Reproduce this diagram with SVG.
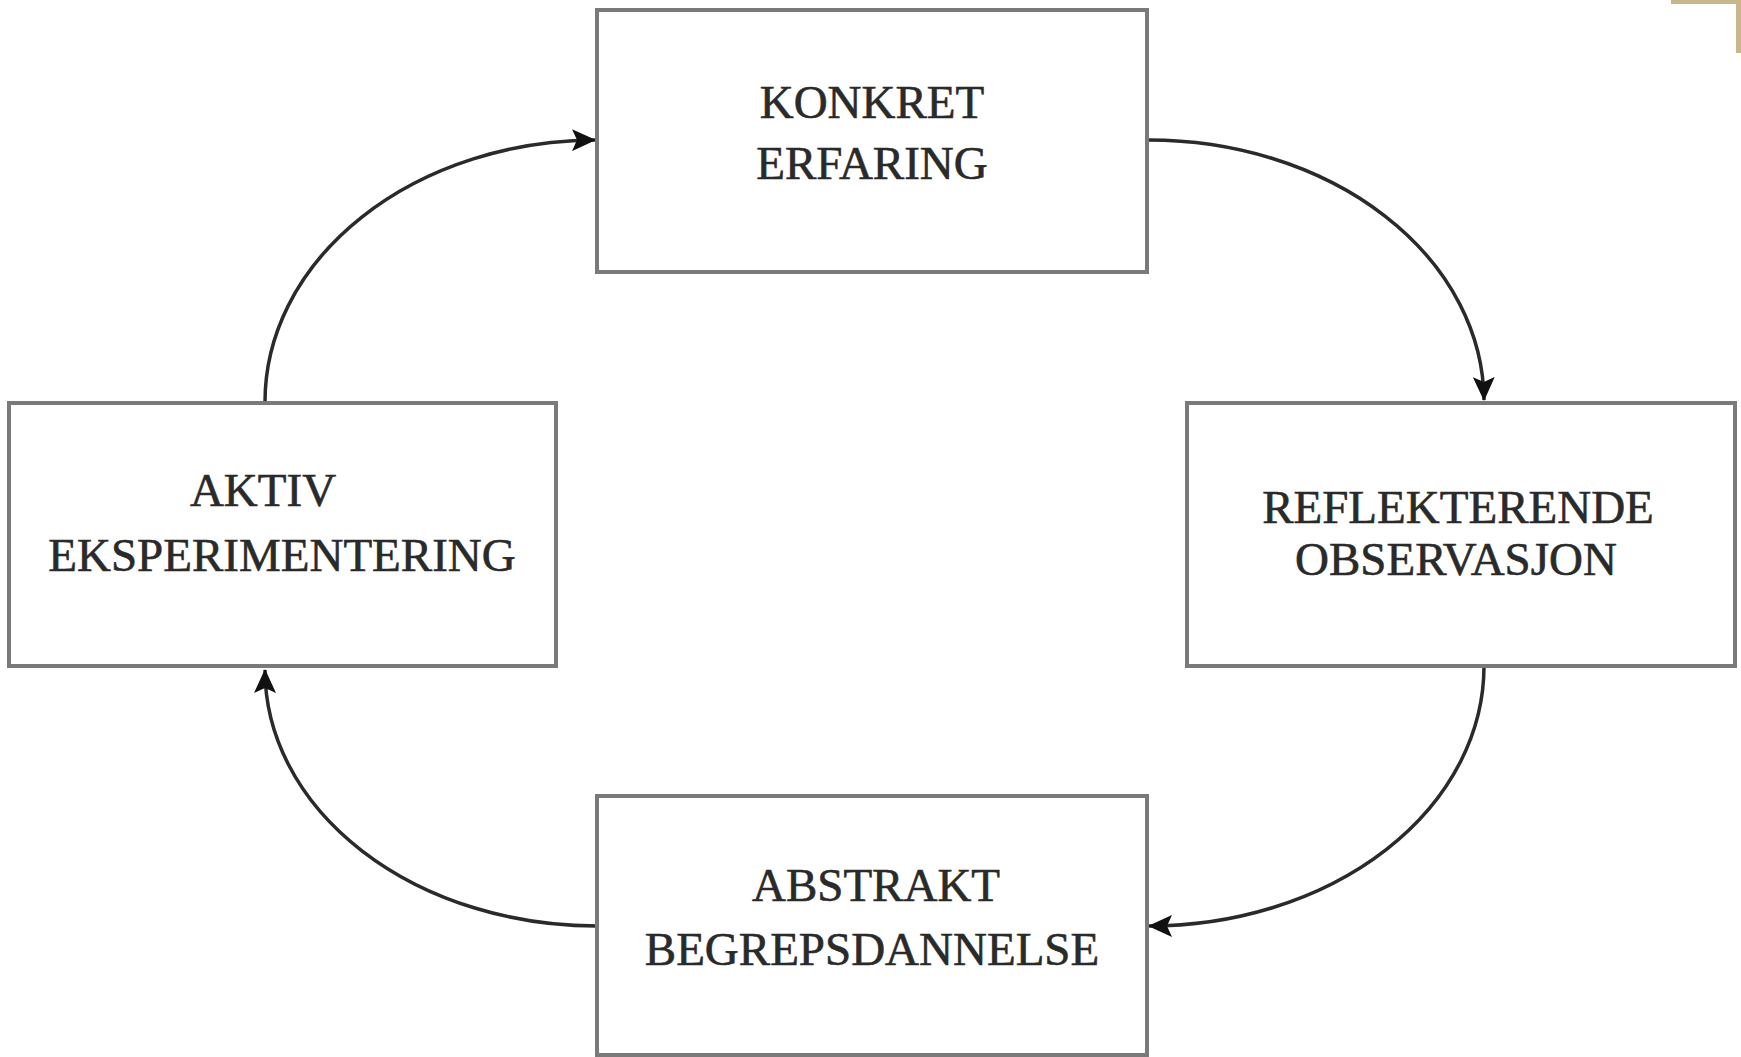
<svg xmlns="http://www.w3.org/2000/svg" width="1741" height="1057" viewBox="0 0 1741 1057">
<style>
.box{fill:#fff;stroke:#7a7a7a;stroke-width:4}
.lbl{font-family:"Liberation Serif","Times New Roman",serif;font-size:47px;fill:#2a2a2a;stroke:#2a2a2a;stroke-width:0.6;text-anchor:middle}
.conn{fill:none;stroke:#2a2a2a;stroke-width:3.5;marker-end:url(#ah)}
</style>
<defs>
<marker id="ah" markerUnits="userSpaceOnUse" markerWidth="24" markerHeight="22" viewBox="0 0 24 22" refX="23" refY="11" orient="auto">
<path d="M0,0 L24,11 L0,22 L5,11 Z" fill="#111"/>
</marker>
</defs>
<rect width="1741" height="1057" fill="#fff"/>
<g id="corner" fill="#c8b78a">
<rect x="1671" y="0" width="70" height="4"/>
<rect x="1736" y="0" width="5" height="53"/>
</g>
<g id="connectors">
<path class="conn" d="M1149,140 A335,262 0 0 1 1484,400"/>
<path class="conn" d="M1484,666 A335,260 0 0 1 1149,926"/>
<path class="conn" d="M597,926 A332,256 0 0 1 265,670"/>
<path class="conn" d="M265,402 A332,262 0 0 1 595,140"/>
</g>
<g id="konkret">
<rect class="box" x="597" y="10" width="550" height="262"/>
<text class="lbl" x="872" y="118">KONKRET</text>
<text class="lbl" x="872" y="179">ERFARING</text>
</g>
<g id="reflekterende">
<rect class="box" x="1187" y="403" width="548" height="263"/>
<text class="lbl" x="1458" y="523">REFLEKTERENDE</text>
<text class="lbl" x="1456" y="575">OBSERVASJON</text>
</g>
<g id="abstrakt">
<rect class="box" x="597" y="796" width="550" height="259"/>
<text class="lbl" x="876" y="901">ABSTRAKT</text>
<text class="lbl" x="872" y="965">BEGREPSDANNELSE</text>
</g>
<g id="aktiv">
<rect class="box" x="9" y="403" width="547" height="263"/>
<text class="lbl" x="263" y="506">AKTIV</text>
<text class="lbl" x="282" y="571">EKSPERIMENTERING</text>
</g>
</svg>
